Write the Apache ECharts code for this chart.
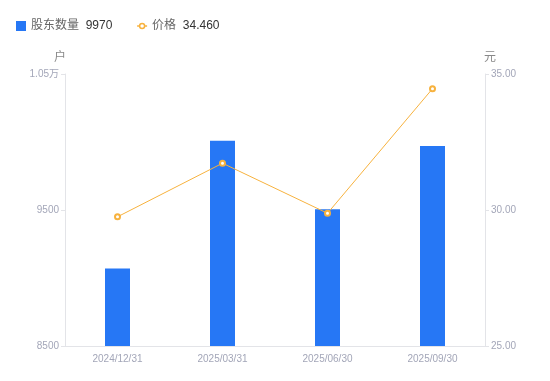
<!DOCTYPE html>
<html><head><meta charset="utf-8">
<script src="https://cdn.jsdelivr.net/npm/echarts@6/dist/echarts.min.js"></script>
<style>html,body{margin:0;padding:0;background:#fff}#c{width:550px;height:381px}</style>
</head><body><div id="c"></div>
<script>
const categories = ['2024/12/31', '2025/03/31', '2025/06/30', '2025/09/30'];
const holders = [9070, 10010, 9505, 9970];
const prices = [29.75, 31.72, 29.88, 34.46];
const legendValues = {'股东数量': '9970', '价格': '34.460'};

const chart = echarts.init(document.getElementById('c'), null, {renderer: 'canvas'});
const labelColor = '#a3a6b8';
const lineColor = '#e3e4e8';
const orange = '#f7b23e';
const font = '"Liberation Sans", Arial, "Noto Sans CJK SC", sans-serif';
chart.setOption({
  animation: false,
  textStyle: {fontFamily: font},
  legend: {
    left: 11, top: 15, itemWidth: 10, itemHeight: 10, itemGap: 24,
    formatter: function (name) { return '{n|' + name + '}  {v|' + legendValues[name] + '}'; },
    textStyle: {rich: {n: {color: '#666', fontSize: 12, fontFamily: font}, v: {color: '#333', fontSize: 12, fontFamily: font}}},
    data: [
      {name: '股东数量', icon: 'rect'},
      {name: '价格', icon: 'path://M0,3.5 L2.5,3.5 M7.5,3.5 L10,3.5 M7.5,3.5 A2.5,2.5 0 1 1 2.5,3.5 A2.5,2.5 0 1 1 7.5,3.5 Z',
       itemStyle: {color: '#fff', borderColor: orange, borderWidth: 1.5}}
    ]
  },
  grid: {left: 65, right: 65, top: 74, bottom: 35},
  xAxis: {
    type: 'category', data: categories,
    axisLine: {lineStyle: {color: lineColor}},
    axisTick: {show: false},
    axisLabel: {color: labelColor, fontSize: 10, margin: 8}
  },
  yAxis: [{
    type: 'value', name: '户', min: 8500, max: 10500, interval: 1000,
    nameTextStyle: {color: '#888', fontSize: 12, padding: [0, 10, 0, 0]}, nameGap: 10,
    axisLine: {show: true, lineStyle: {color: lineColor}},
    axisTick: {show: true, length: 4, lineStyle: {color: lineColor}},
    splitLine: {show: false},
    axisLabel: {color: labelColor, fontSize: 10, margin: 6,
      formatter: function (v) { return v >= 10000 ? (v / 10000) + '万' : String(v); }}
  }, {
    type: 'value', name: '元', min: 25, max: 35, interval: 5,
    nameTextStyle: {color: '#888', fontSize: 12, padding: [0, 0, 0, 10]}, nameGap: 10,
    axisLine: {show: true, lineStyle: {color: lineColor}},
    axisTick: {show: true, length: 4, lineStyle: {color: lineColor}},
    splitLine: {show: false},
    axisLabel: {color: labelColor, fontSize: 10, margin: 6,
      formatter: function (v) { return v.toFixed(2); }}
  }],
  series: [{
    name: '股东数量', type: 'bar', data: holders, barWidth: 25,
    itemStyle: {color: '#2677f5'}
  }, {
    name: '价格', type: 'line', yAxisIndex: 1, data: prices,
    symbol: 'emptyCircle', symbolSize: 5,
    lineStyle: {color: orange, width: 1},
    itemStyle: {color: orange, borderWidth: 2}
  }]
});
</script></body></html>
